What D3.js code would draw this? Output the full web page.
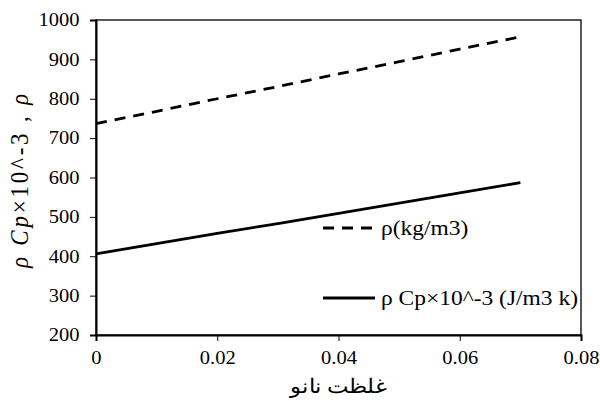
<!DOCTYPE html>
<html>
<head>
<meta charset="UTF-8">
<script src="https://d3js.org/d3.v7.min.js"></script>
</head>
<body style="margin:0">
<script>
  // nano concentration (x) and the two series
  const conc = [0, 0.01, 0.02, 0.03, 0.04, 0.05, 0.06, 0.07];
  const rho = [737, 768, 800, 831, 863, 894, 926, 957];
  const rhoCp = [406, 432, 458, 483, 509, 535, 561, 587];
  const xTicks = [0, 0.02, 0.04, 0.06, 0.08];
  const yTicks = [200, 300, 400, 500, 600, 700, 800, 900, 1000];
  const seriesNames = ["ρ(kg/m3)", "ρ Cp×10^-3 (J/m3 k)"];

  const serif = "Liberation Serif";
  const stretch = "scale(1.14,1)";   // text in the original is a bit wide
  const W = 600, H = 401;
  const margin = { top: 20, right: 19, bottom: 66, left: 96 };
  const width = W - margin.left - margin.right;
  const height = H - margin.top - margin.bottom;

  const svg = d3.select("body").append("svg")
    .attr("width", W).attr("height", H)
    .style("display", "block");
  const g = svg.append("g")
    .attr("transform", "translate(" + margin.left + "," + margin.top + ")");

  const x = d3.scaleLinear().domain([0, 0.08]).range([0, width]);
  const y = d3.scaleLinear().domain([200, 1000]).range([height, 0]);

  // frame
  g.append("rect")
    .attr("width", width).attr("height", height)
    .attr("fill", "none").attr("stroke", "#000").attr("stroke-width", 1.3);

  const xAxis = g.append("g")
    .attr("transform", "translate(0," + height + ")")
    .call(d3.axisBottom(x).tickValues(xTicks).tickSize(6).tickPadding(10)
      .tickFormat(d => d === 0 ? "0" : d3.format(".2f")(d)));
  const yAxis = g.append("g")
    .call(d3.axisLeft(y).tickValues(yTicks).tickSize(6).tickPadding(8.5)
      .tickFormat(d3.format("d")));

  [xAxis, yAxis].forEach(a => {
    a.attr("font-family", null).attr("font-size", null);
    a.selectAll("text").attr("font-family", serif).attr("font-size", 18)
      .attr("fill", "#000").attr("transform", stretch);
    a.select(".domain").attr("stroke-width", 2);
    a.selectAll("line").attr("stroke-width", 1);
  });

  const line = d3.line().x((d, i) => x(conc[i])).y(d => y(d));

  g.append("path").datum(rho)
    .attr("d", line).attr("fill", "none")
    .attr("stroke", "#000").attr("stroke-width", 2.8)
    .attr("stroke-dasharray", "11,8");
  g.append("path").datum(rhoCp)
    .attr("d", line).attr("fill", "none")
    .attr("stroke", "#000").attr("stroke-width", 2.8);

  // legend
  const legend = svg.append("g");
  const legY = [228, 298];
  legend.selectAll("line").data(seriesNames).enter().append("line")
    .attr("x1", 323).attr("x2", 375)
    .attr("y1", (d, i) => legY[i]).attr("y2", (d, i) => legY[i])
    .attr("stroke", "#000").attr("stroke-width", 2.8)
    .attr("stroke-dasharray", (d, i) => i === 0 ? "11,8" : null);
  legend.selectAll("text").data(seriesNames).enter().append("text")
    .attr("transform", (d, i) => "translate(381," + (legY[i] + 7) + ") " + stretch)
    .attr("font-family", serif).attr("font-size", 20.6)
    .text(d => d);

  // x title
  svg.append("text")
    .attr("transform", "translate(" + (margin.left + width / 2) + ",393) " + stretch)
    .attr("text-anchor", "middle")
    .attr("font-size", 20)
    .attr("font-family", serif)
    .text("غلظت نانو");

  // y title
  const yt = svg.append("text")
    .attr("transform", "translate(28,181) " + stretch + " rotate(-90)")
    .attr("text-anchor", "middle")
    .attr("font-family", serif)
    .attr("font-size", 23)
    .attr("textLength", 174)
    .attr("lengthAdjust", "spacing");
  yt.append("tspan").attr("font-style", "italic").text("ρ Cp");
  yt.append("tspan").text("×10^-3 ,  ");
  yt.append("tspan").attr("font-style", "italic").text("ρ");
</script>
</body>
</html>
